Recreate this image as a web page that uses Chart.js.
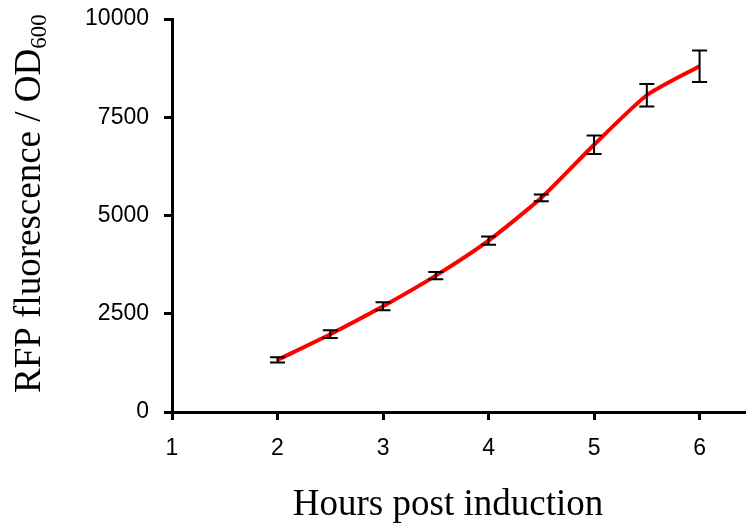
<!DOCTYPE html>
<html>
<head>
<meta charset="utf-8">
<script src="https://cdn.jsdelivr.net/npm/chart.js@4/dist/chart.umd.min.js"></script>
<style>
html,body{margin:0;padding:0;background:#fff;}
#wrap{width:746px;height:529px;position:relative;}
</style>
</head>
<body>
<div id="wrap"><canvas id="c" width="746" height="529"></canvas></div>
<script>
const hours = [2, 2.5, 3, 3.5, 4, 4.5, 5, 5.5, 6];
const rfpOverOD = [1325, 1980, 2690, 3470, 4360, 5450, 6800, 8060, 8800];
const errors = [65, 97, 100, 90, 105, 85, 233, 285, 400];
const xTickValues = [1, 2, 3, 4, 5, 6];
const yTickValues = [0, 2500, 5000, 7500, 10000];
const xTitle = 'Hours post induction';
const yTitleMain = 'RFP fluorescence / OD';
const yTitleSub = '600';

const points = hours.map((h, i) => ({x: h, y: rfpOverOD[i]}));

const errorBars = {
  id: 'errorBars',
  afterDatasetsDraw(chart) {
    const ctx = chart.ctx, xs = chart.scales.x, ys = chart.scales.y;
    ctx.save();
    ctx.strokeStyle = '#000';
    ctx.lineWidth = 2;
    hours.forEach((h, i) => {
      const px = xs.getPixelForValue(h);
      const top = ys.getPixelForValue(rfpOverOD[i] + errors[i]);
      const bot = ys.getPixelForValue(rfpOverOD[i] - errors[i]);
      ctx.beginPath();
      ctx.moveTo(px, top); ctx.lineTo(px, bot);
      ctx.moveTo(px - 7.5, top); ctx.lineTo(px + 7.5, top);
      ctx.moveTo(px - 7.5, bot); ctx.lineTo(px + 7.5, bot);
      ctx.stroke();
    });
    ctx.restore();
  }
};

const titles = {
  id: 'titles',
  afterDraw(chart) {
    const ctx = chart.ctx;
    ctx.save();
    ctx.fillStyle = '#000';
    ctx.font = '37px "Liberation Serif", "Times New Roman", serif';
    ctx.textAlign = 'center';
    ctx.textBaseline = 'alphabetic';
    ctx.fillText(xTitle, 448, 515);
    ctx.translate(40, 393);
    ctx.rotate(-Math.PI / 2);
    ctx.textAlign = 'left';
    ctx.font = '37px "Liberation Serif", "Times New Roman", serif';
    ctx.fillText(yTitleMain, 0, 0);
    const w = ctx.measureText(yTitleMain).width;
    ctx.font = '23px "Liberation Serif", "Times New Roman", serif';
    ctx.fillText(yTitleSub, w, 6);
    ctx.restore();
  }
};

new Chart(document.getElementById('c'), {
  type: 'line',
  data: {
    datasets: [{
      data: points,
      borderColor: '#ff0000',
      borderWidth: 4,
      pointRadius: 0,
      tension: 0.2,
      fill: false
    }]
  },
  options: {
    responsive: false,
    animation: false,
    devicePixelRatio: 1,
    layout: {padding: {left: 0, right: 0, top: 19, bottom: 0}},
    plugins: {legend: {display: false}, tooltip: {enabled: false}},
    scales: {
      x: {
        type: 'linear',
        min: 1,
        max: 6.44,
        afterBuildTicks: s => { s.ticks = xTickValues.map(v => ({value: v})); },
        afterFit: s => { s.height = 117; s.paddingLeft = 0; s.paddingRight = 0; },
        border: {display: true, color: '#000', width: 3},
        grid: {display: true, drawOnChartArea: false, drawTicks: true, tickLength: 8, tickWidth: 3, tickColor: '#000', color: '#000'},
        ticks: {color: '#000', font: {family: '"Liberation Sans", Arial, sans-serif', size: 23}, padding: 15, maxRotation: 0, callback: v => String(v)}
      },
      y: {
        min: 0,
        max: 10000,
        afterBuildTicks: s => { s.ticks = yTickValues.map(v => ({value: v})); },
        afterFit: s => { s.width = 172; s.paddingTop = 0; s.paddingBottom = 0; },
        border: {display: true, color: '#000', width: 3},
        grid: {display: true, drawOnChartArea: false, drawTicks: true, tickLength: 8, tickWidth: 3, tickColor: '#000', color: '#000'},
        ticks: {color: '#000', font: {family: '"Liberation Sans", Arial, sans-serif', size: 23}, padding: 15, callback: v => String(v)}
      }
    }
  },
  plugins: [errorBars, titles]
});
</script>
</body>
</html>
